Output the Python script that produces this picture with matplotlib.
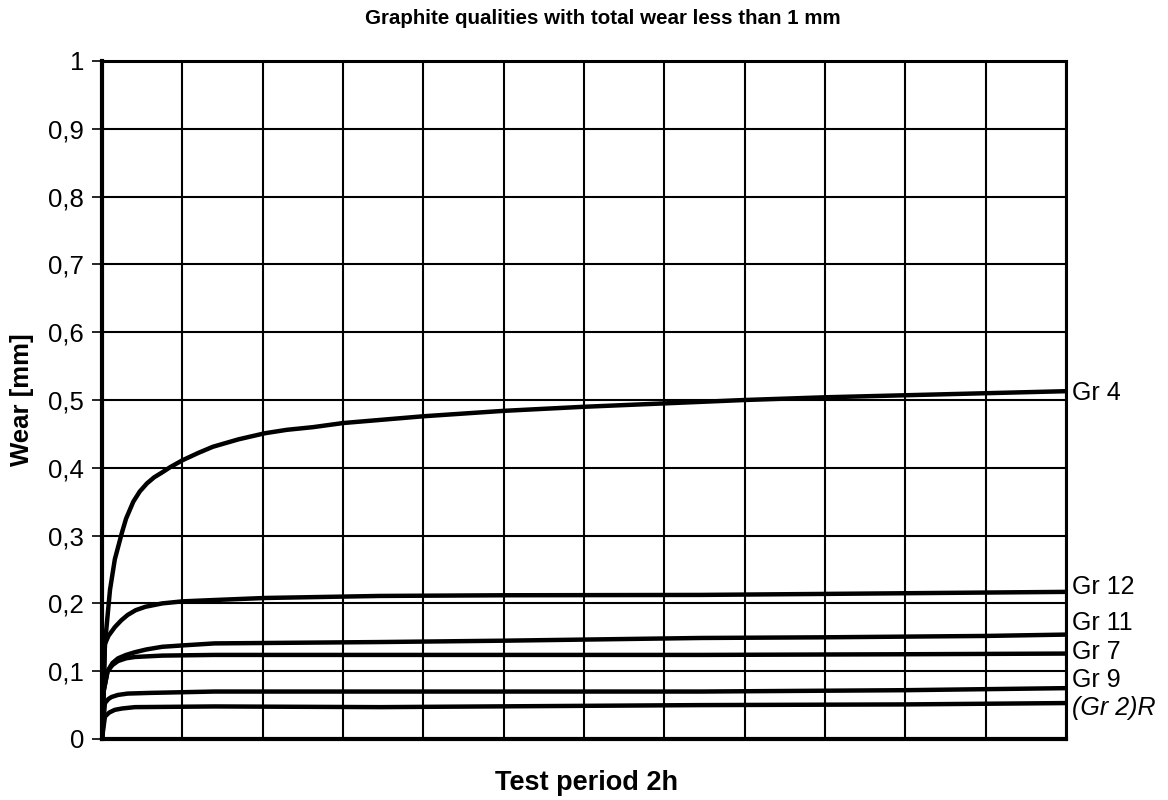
import matplotlib
matplotlib.use("Agg")
import matplotlib.pyplot as plt

plt.rcParams['font.family'] = ['Liberation Sans', 'DejaVu Sans']

# Test time in grid units (12 divisions over the 2h test period)
x_gr4 = [0, 0.037, 0.1, 0.16, 0.25, 0.3, 0.39, 0.47, 0.56, 0.65, 0.76, 0.85, 1.0, 1.2, 1.38, 1.7,
         2.03, 2.3, 2.63, 3.0, 3.5, 4, 5, 6, 7, 8, 9, 10, 11, 12]
y_gr4 = [0, 0.14, 0.22, 0.265, 0.305, 0.325, 0.35, 0.365, 0.377, 0.386, 0.394, 0.401, 0.411, 0.422, 0.431, 0.442,
         0.451, 0.456, 0.460, 0.466, 0.471, 0.476, 0.484, 0.490, 0.495, 0.500, 0.504, 0.507, 0.510, 0.513]

x_gr12 = [0, 0.037, 0.08, 0.16, 0.24, 0.32, 0.42, 0.54, 0.75, 1.0, 1.4, 2.03, 3.46, 5, 7.45, 9, 10, 11, 12]
y_gr12 = [0, 0.14, 0.152, 0.165, 0.175, 0.183, 0.19, 0.195, 0.2, 0.203, 0.205, 0.208, 0.211, 0.212, 0.2125,
          0.214, 0.215, 0.216, 0.217]

x_gr11 = [0, 0.02, 0.07, 0.13, 0.2, 0.3, 0.41, 0.55, 0.75, 1.0, 1.4, 3.46, 5, 7.45, 9, 10, 11, 12]
y_gr11 = [0, 0.07, 0.10, 0.112, 0.119, 0.124, 0.128, 0.132, 0.136, 0.138, 0.141, 0.143, 0.145, 0.149,
          0.150, 0.151, 0.152, 0.154]

x_gr7 = [0, 0.02, 0.07, 0.13, 0.2, 0.3, 0.41, 0.75, 1.4, 3.46, 7.45, 10, 12]
y_gr7 = [0, 0.07, 0.10, 0.109, 0.115, 0.119, 0.121, 0.123, 0.124, 0.124, 0.124, 0.125, 0.126]

x_gr9 = [0, 0.037, 0.08, 0.12, 0.2, 0.32, 0.6, 1.0, 1.4, 3.46, 7.45, 10, 12]
y_gr9 = [0, 0.053, 0.059, 0.062, 0.065, 0.067, 0.068, 0.069, 0.070, 0.070, 0.070, 0.072, 0.075]

x_gr2r = [0, 0.037, 0.09, 0.16, 0.25, 0.41, 1.4, 3.46, 7.45, 10, 12]
y_gr2r = [0, 0.033, 0.039, 0.043, 0.045, 0.047, 0.048, 0.047, 0.050, 0.051, 0.053]

series = [(x_gr4, y_gr4), (x_gr12, y_gr12), (x_gr11, y_gr11),
          (x_gr7, y_gr7), (x_gr9, y_gr9), (x_gr2r, y_gr2r)]
names = ['Gr 4', 'Gr 12', 'Gr 11', 'Gr 7', 'Gr 9', '(Gr 2)R']
label_y = [0.510, 0.224, 0.171, 0.128, 0.087, 0.046]

fig = plt.figure(figsize=(11.68, 8), dpi=100)
ax = fig.add_axes([0.0873, 0.07625, 0.8254, 0.8475])

for xs, ys in series:
    ax.plot(xs, ys, color='black', lw=3.2, solid_joinstyle='round', solid_capstyle='round', zorder=3)

for name, ly in zip(names, label_y):
    ax.text(12.08, ly, name, fontsize=18, va='center', ha='left',
            style='italic' if 'R' in name else 'normal', clip_on=False)

ax.set_xlim(0, 12)
ax.set_ylim(0, 1)
ax.set_xticks(range(13))
ax.set_xticklabels([])
ax.set_yticks([i / 10 for i in range(11)])
ax.set_yticklabels(['0'] + ['0,%d' % i for i in range(1, 10)] + ['1'], fontsize=18.5)
ax.tick_params(axis='x', length=0)
ax.tick_params(axis='y', length=7, width=1.2, pad=6)
ax.grid(True, color='black', lw=1.5)
ax.set_axisbelow(True)
for side in ['left', 'bottom']:
    ax.spines[side].set_linewidth(3)
for side in ['top', 'right']:
    ax.spines[side].set_linewidth(2.2)

fig.text(0.516, 0.977, 'Graphite qualities with total wear less than 1 mm',
         fontsize=14.8, fontweight='bold', ha='center', va='center')
fig.text(0.502, 0.021, 'Test period 2h', fontsize=19.5, fontweight='bold',
         ha='center', va='center')
fig.text(0.019, 0.5, 'Wear [mm]', fontsize=18.5, fontweight='bold',
         rotation=90, ha='center', va='center')

fig.savefig('out.png', dpi=100)
